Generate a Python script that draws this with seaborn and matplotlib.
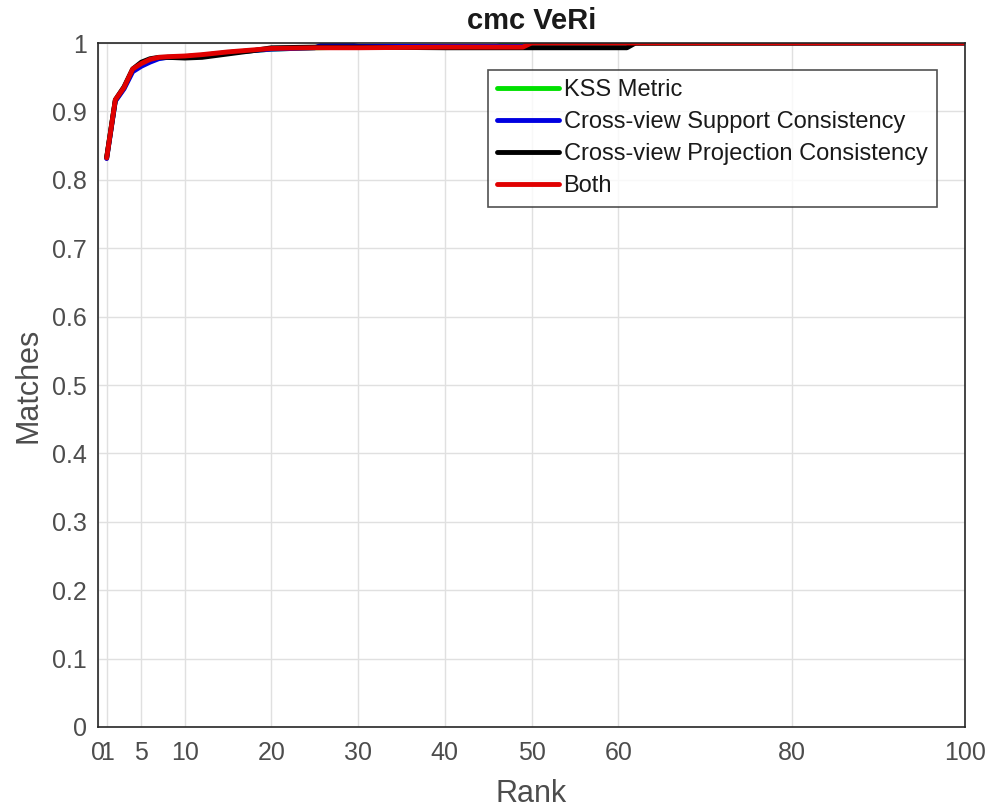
import matplotlib
matplotlib.use("Agg")
import matplotlib.pyplot as plt
import seaborn as sns
import pandas as pd

# Data (rank, matching rate)
ranks_kss = [1, 2, 3, 4, 5, 6, 7, 8, 10, 12, 15, 18, 20, 25, 30, 40, 46, 47, 100]
vals_kss = [0.832, 0.916, 0.934, 0.961, 0.969, 0.974, 0.978, 0.979, 0.980, 0.982, 0.986, 0.989, 0.991, 0.993, 0.994, 0.995, 0.995, 0.999, 1.0]

ranks_csc = [1, 2, 3, 4, 5, 6, 7, 8, 10, 12, 15, 18, 20, 25, 26, 29, 30, 49, 50, 100]
vals_csc = [0.831, 0.915, 0.933, 0.958, 0.966, 0.972, 0.977, 0.979, 0.980, 0.982, 0.986, 0.989, 0.991, 0.993, 0.998, 0.998, 0.995, 0.995, 1.0, 1.0]

ranks_cpc = [1, 2, 3, 4, 5, 6, 7, 8, 10, 12, 15, 18, 20, 25, 30, 40, 61, 62, 100]
vals_cpc = [0.833, 0.917, 0.936, 0.962, 0.972, 0.977, 0.979, 0.979, 0.978, 0.979, 0.984, 0.989, 0.993, 0.994, 0.994, 0.993, 0.993, 1.0, 1.0]

ranks_both = [1, 2, 3, 4, 5, 6, 7, 8, 10, 12, 15, 18, 20, 25, 30, 40, 49, 50, 100]
vals_both = [0.832, 0.917, 0.935, 0.962, 0.970, 0.976, 0.979, 0.980, 0.981, 0.983, 0.987, 0.990, 0.992, 0.993, 0.993, 0.994, 0.994, 1.0, 1.0]

series_names = ["KSS Metric", "Cross-view Support Consistency",
                "Cross-view Projection Consistency", "Both"]
colors = ["#00e000", "#0000e0", "#000000", "#e00000"]

x_ticks = [0, 1, 5, 10, 20, 30, 40, 50, 60, 80, 100]
x_tick_labels = ["0", "1", "5", "10", "20", "30", "40", "50", "60", "80", "100"]
y_ticks = [0, 0.1, 0.2, 0.3, 0.4, 0.5, 0.6, 0.7, 0.8, 0.9, 1.0]
y_tick_labels = ["0", "0.1", "0.2", "0.3", "0.4", "0.5", "0.6", "0.7", "0.8", "0.9", "1"]

frames = []
for name, r, v in zip(series_names,
                      [ranks_kss, ranks_csc, ranks_cpc, ranks_both],
                      [vals_kss, vals_csc, vals_cpc, vals_both]):
    frames.append(pd.DataFrame({"Rank": r, "Matches": v, "Method": name}))
df = pd.concat(frames, ignore_index=True)

sns.set_style("white")
plt.rcParams["font.family"] = ["Liberation Sans", "DejaVu Sans"]

fig = plt.figure(figsize=(9.92, 8.07), dpi=100)
ax = fig.add_axes([98 / 992, 1 - 727 / 807, (965 - 98) / 992, (727 - 43) / 807])

sns.lineplot(data=df, x="Rank", y="Matches", hue="Method",
             hue_order=series_names, palette=colors, linewidth=3.5,
             ax=ax, estimator=None, sort=False)

ax.set_xlim(0, 100)
ax.set_ylim(0, 1)
ax.set_xticks(x_ticks)
ax.set_xticklabels(x_tick_labels)
ax.set_yticks(y_ticks)
ax.set_yticklabels(y_tick_labels)
ax.grid(True, color="#e0e0e0", linewidth=1.0)
ax.set_axisbelow(True)
ax.tick_params(direction="in", length=6, width=1, colors="#262626",
               labelsize=18, top=False, right=False)
ax.tick_params(axis="x", pad=10)
ax.tick_params(axis="y", pad=8)
for lbl in ax.get_xticklabels() + ax.get_yticklabels():
    lbl.set_color("#4d4d4d")
for s in ax.spines.values():
    s.set_visible(True)
    s.set_color("#262626")
    s.set_linewidth(1.2)

ax.set_xlabel("Rank", fontsize=22, color="#4d4d4d", labelpad=10)
ax.set_ylabel("Matches", fontsize=22, color="#4d4d4d", labelpad=6)
ax.set_title("cmc VeRi", fontsize=21, fontweight="bold", color="#1a1a1a", pad=10)

leg = ax.legend(loc="upper left", bbox_to_anchor=((488 - 98) / 867, 1 - (70 - 43) / 684),
                fontsize=17, frameon=True, fancybox=False, edgecolor="#262626",
                handlelength=2.6, handletextpad=0.2, borderpad=0.4,
                labelspacing=0.42, borderaxespad=0)
leg.get_frame().set_linewidth(1.2)
for line in leg.get_lines():
    line.set_linewidth(3.5)
for t in leg.get_texts():
    t.set_color("#1a1a1a")

fig.savefig("out.png", dpi=100)
